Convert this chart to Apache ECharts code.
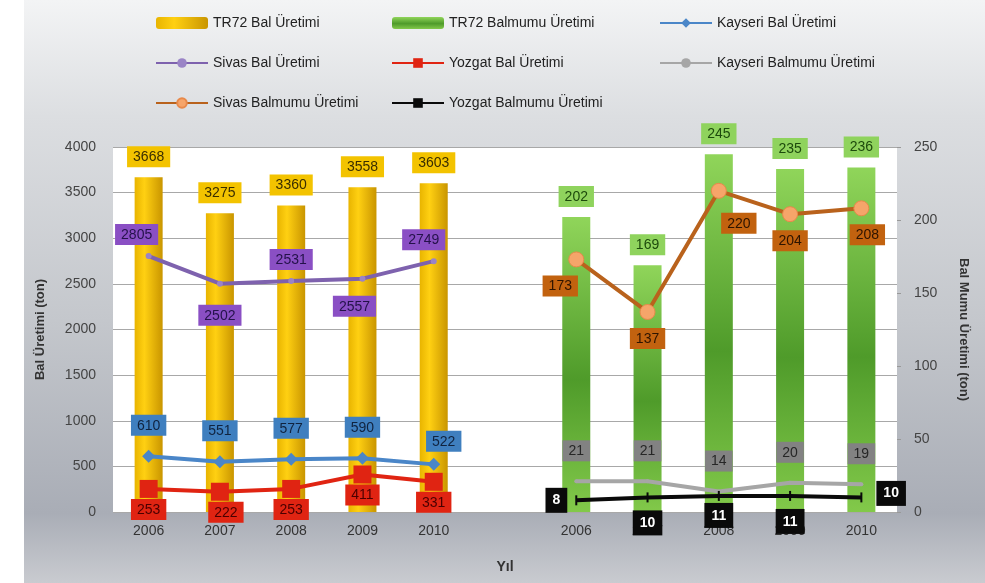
<!DOCTYPE html>
<html>
<head>
<meta charset="utf-8">
<script src="https://cdn.jsdelivr.net/npm/echarts@6/dist/echarts.min.js"></script>
<style>
  html, body { margin: 0; padding: 0; background: #fff; }
  #chart { width: 985px; height: 583px; }
</style>
</head>
<body>
<div id="chart"></div>
<script>
// kategoriler: iki grup (bal / balmumu), arada bir boşluk
const years = ['2006', '2007', '2008', '2009', '2010'];
const categories = [...years, '', ...years];

// bal üretimi (ton) - sol eksen
const tr72Bal = [3668, 3275, 3360, 3558, 3603];
const kayseriBal = [610, 551, 577, 590, 522];
const sivasBal = [2805, 2502, 2531, 2557, 2749];
const yozgatBal = [253, 222, 253, 411, 331];

// balmumu üretimi (ton) - sağ eksen
const tr72Balmumu = [202, 169, 245, 235, 236];
const kayseriBalmumu = [21, 21, 14, 20, 19];
const sivasBalmumu = [173, 137, 220, 204, 208];
const yozgatBalmumu = [8, 10, 11, 11, 10];

const leftTicks = { min: 0, max: 4000, interval: 500 };
const rightTicks = { min: 0, max: 250, interval: 50 };

const FONT = 'Liberation Sans';
const chart = echarts.init(document.getElementById('chart'));

// sol grup (0-4) veya sağ grup (6-10) için veri diz
function leftGroup(arr, pos) {
  const out = arr.map((v, i) => (pos ? { value: v, label: pos[i] } : v));
  return out.concat(['-', '-', '-', '-', '-', '-']);
}
function rightGroup(arr, pos) {
  const out = arr.map((v, i) => (pos ? { value: v, label: pos[i] } : v));
  return ['-', '-', '-', '-', '-', '-'].concat(out);
}

function boxLabel(bg, color, distance) {
  return {
    show: true,
    position: 'top',
    distance: distance,
    backgroundColor: bg,
    color: color,
    fontFamily: FONT,
    fontSize: 14,
    padding: [4, 6, 3, 6],
  };
}

const P = (position, offset) => ({ position, offset: offset || [0, 0] });

const legendBase = {
  top: 11, orient: 'vertical', itemGap: 26,
  itemWidth: 52, itemHeight: 12,
  textStyle: { fontFamily: FONT, fontSize: 14, color: '#222' },
};

const option = {
  backgroundColor: '#fff',
  animation: false,
  graphic: [
    {
      type: 'rect',
      z: -10,
      silent: true,
      shape: { x: 24, y: 0, width: 961, height: 583 },
      style: {
        fill: new echarts.graphic.LinearGradient(0, 0, 0, 1, [
          { offset: 0, color: '#f3f4f5' },
          { offset: 0.2, color: '#dcdee1' },
          { offset: 0.55, color: '#c4c7cc' },
          { offset: 0.88, color: '#a9adb6' },
          { offset: 1, color: '#c9cbd0' },
        ]),
      },
    },
  ],
  legend: [
    {
      ...legendBase, left: 150,
      data: ['TR72 Bal Üretimi', 'Sivas Bal Üretimi', 'Sivas Balmumu Üretimi'],
    },
    {
      ...legendBase, left: 386,
      data: ['TR72 Balmumu Üretimi', 'Yozgat Bal Üretimi', 'Yozgat Balmumu Üretimi'],
    },
    {
      ...legendBase, left: 654,
      data: ['Kayseri Bal Üretimi', 'Kayseri Balmumu Üretimi'],
    },
  ],
  grid: {
    left: 113, right: 88, top: 147, bottom: 71,
    show: true, backgroundColor: '#fff', borderWidth: 0,
  },
  xAxis: {
    type: 'category',
    data: categories,
    name: 'Yıl',
    nameLocation: 'middle',
    nameGap: 48,
    nameTextStyle: { fontFamily: FONT, fontSize: 14, fontWeight: 'bold', color: '#333' },
    axisLine: { show: false },
    axisTick: { show: false },
    axisLabel: { fontFamily: FONT, fontSize: 14, color: '#333', margin: 12 },
  },
  yAxis: [
    {
      type: 'value',
      ...leftTicks,
      name: 'Bal Üretimi (ton)',
      nameLocation: 'middle',
      nameGap: 66,
      nameTextStyle: { fontFamily: FONT, fontSize: 13, fontWeight: 'bold', color: '#333' },
      axisLine: { show: false },
      axisTick: { show: false },
      axisLabel: { fontFamily: FONT, fontSize: 14, color: '#444', margin: 17, formatter: (v) => String(v) },
      splitLine: { lineStyle: { color: '#a8a8a8', width: 1 } },
    },
    {
      type: 'value',
      ...rightTicks,
      name: 'Bal Mumu Üretimi (ton)',
      nameLocation: 'middle',
      nameRotate: -90,
      nameGap: 60,
      nameTextStyle: { fontFamily: FONT, fontSize: 13, fontWeight: 'bold', color: '#333' },
      axisLine: { show: false },
      axisTick: { show: true, length: 4, lineStyle: { color: '#999' } },
      axisLabel: { fontFamily: FONT, fontSize: 14, color: '#444', margin: 17 },
      splitLine: { show: false },
    },
  ],
  series: [
    {
      name: 'TR72 Bal Üretimi',
      type: 'bar',
      yAxisIndex: 0,
      barWidth: 28,
      barGap: '-100%',
      itemStyle: {
        color: new echarts.graphic.LinearGradient(0, 0, 1, 0, [
          { offset: 0, color: '#e8b400' },
          { offset: 0.35, color: '#ffd012' },
          { offset: 1, color: '#c99500' },
        ]),
      },
      label: boxLabel('#f3c300', '#3a2e00', 10),
      data: leftGroup(tr72Bal),
    },
    {
      name: 'TR72 Balmumu Üretimi',
      type: 'bar',
      yAxisIndex: 1,
      barWidth: 28,
      barGap: '-100%',
      itemStyle: {
        color: new echarts.graphic.LinearGradient(0, 0, 0, 1, [
          { offset: 0, color: '#90d55a' },
          { offset: 0.55, color: '#4f9b2a' },
          { offset: 1, color: '#82c94a' },
        ]),
      },
      label: boxLabel('#8fd35d', '#1d4a0c', 10),
      data: rightGroup(tr72Balmumu),
    },
    {
      name: 'Kayseri Bal Üretimi',
      type: 'line',
      yAxisIndex: 0,
      symbol: 'diamond',
      symbolSize: 13,
      lineStyle: { color: '#4a86c8', width: 4 },
      itemStyle: { color: '#4a86c8' },
      label: boxLabel('#3f7fbf', '#10233f', 14),
      data: leftGroup(kayseriBal, [P('top'), P('top'), P('top'), P('top'), P('top', [10, 8])]),
    },
    {
      name: 'Sivas Bal Üretimi',
      type: 'line',
      yAxisIndex: 0,
      symbol: 'circle',
      symbolSize: 6,
      lineStyle: { color: '#7e62ae', width: 4 },
      itemStyle: { color: '#9a84c6' },
      label: boxLabel('#8a4fc4', '#24124a', 8),
      data: leftGroup(sivasBal, [P('top', [-12, 0]), P('bottom', [0, 10]), P('top'), P('bottom', [-8, 6]), P('top', [-10, 0])]),
    },
    {
      name: 'Yozgat Bal Üretimi',
      type: 'line',
      yAxisIndex: 0,
      symbol: 'rect',
      symbolSize: 18,
      lineStyle: { color: '#e02412', width: 4 },
      itemStyle: { color: '#e02412' },
      label: boxLabel('#e02412', '#4a0000', 1),
      data: leftGroup(yozgatBal, [P('bottom'), P('bottom', [6, 0]), P('bottom'), P('bottom'), P('bottom')]),
    },
    {
      name: 'Kayseri Balmumu Üretimi',
      type: 'line',
      yAxisIndex: 1,
      symbol: 'circle',
      symbolSize: 4,
      lineStyle: { color: '#a6a6a6', width: 4 },
      itemStyle: { color: '#a6a6a6' },
      label: boxLabel('#828282', '#262626', 18),
      data: rightGroup(kayseriBalmumu),
    },
    {
      name: 'Sivas Balmumu Üretimi',
      type: 'line',
      yAxisIndex: 1,
      symbol: 'circle',
      symbolSize: 15,
      lineStyle: { color: '#b9621c', width: 4 },
      itemStyle: { color: '#f6a56a', borderColor: '#e8894a', borderWidth: 1 },
      label: boxLabel('#c2620f', '#2e1400', 8),
      data: rightGroup(sivasBalmumu, [P('bottom', [-16, 0]), P('bottom'), P('bottom', [20, 6]), P('bottom'), P('bottom', [6, 0])]),
    },
    {
      name: 'Yozgat Balmumu Üretimi',
      type: 'line',
      yAxisIndex: 1,
      symbol: 'rect',
      symbolSize: [2, 10],
      lineStyle: { color: '#0a0a0a', width: 4 },
      itemStyle: { color: '#0a0a0a' },
      label: { ...boxLabel('#0a0a0a', '#ffffff', 8), fontWeight: 'bold', padding: [6, 7, 5, 7] },
      data: rightGroup(yozgatBalmumu, [P('left'), P('bottom'), P('bottom', [0, -6]), P('bottom'), P('right', [6, -4])]),
    },
  ],
};

chart.setOption(option);
</script>
</body>
</html>
